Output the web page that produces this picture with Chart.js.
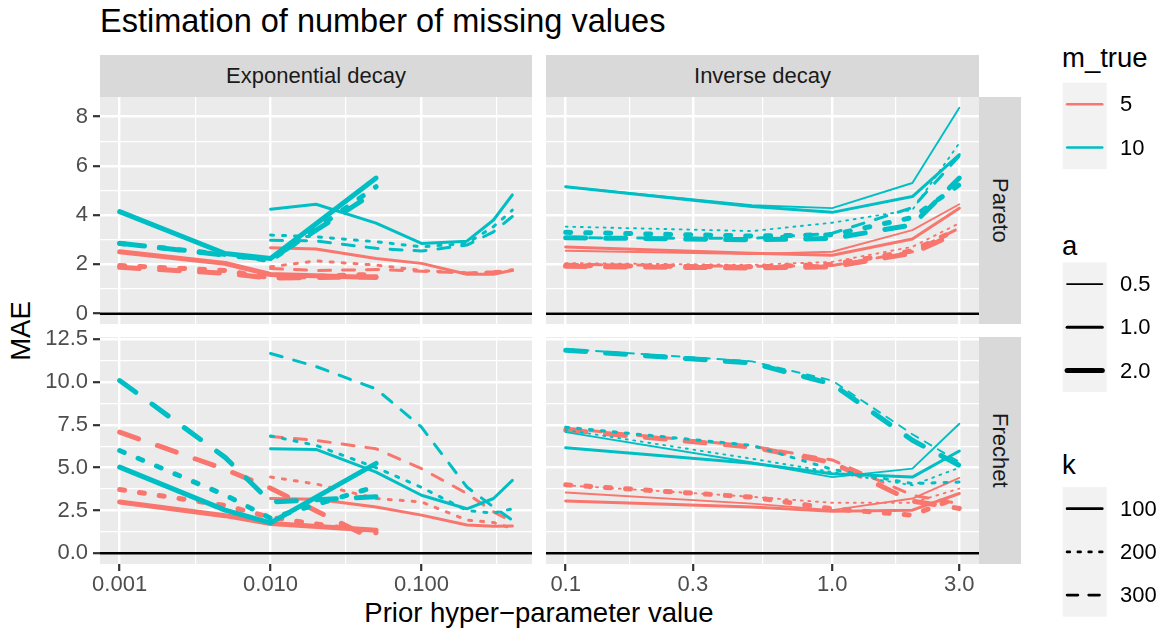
<!DOCTYPE html>
<html>
<head>
<meta charset="utf-8">
<script src="https://cdn.jsdelivr.net/npm/chart.js@4.4.0/dist/chart.umd.min.js"></script>
<style>
  body { margin: 0; background: #fff; }
  #plot { position: relative; width: 1165px; height: 635px; overflow: hidden;
          font-family: "Liberation Sans", Arial, Helvetica, sans-serif; color: #000; }
  #plot canvas { position: absolute; }
  .txt { position: absolute; white-space: nowrap; line-height: 1; }
  .strip { position: absolute; background: #D9D9D9; color: #1A1A1A; font-size: 22px;
           display: flex; align-items: center; justify-content: center; }
  .strip.right span { writing-mode: vertical-rl; }
  .legtitle { font-size: 27.5px; }
  .legtext { font-size: 22px; }
</style>
</head>
<body>
<div id="plot">
  <div class="txt" style="left:100px; top:5px; font-size:32.5px;">Estimation of number of missing values</div>

  <div class="strip" style="left:100px; top:55px; width:432px; height:42px;">Exponential decay</div>
  <div class="strip" style="left:546px; top:55px; width:433px; height:42px;">Inverse decay</div>
  <div class="strip right" style="left:979px; top:97px; width:42px; height:227px;"><span>Pareto</span></div>
  <div class="strip right" style="left:979px; top:337px; width:42px; height:227px;"><span>Frechet</span></div>

  <div class="txt" style="left:21px; top:331px; font-size:27.5px; transform: translate(-50%, -50%) rotate(-90deg);">MAE</div>
  <div class="txt" style="left:539px; top:599px; font-size:27.5px; transform: translateX(-50%);">Prior hyper−parameter value</div>

  <!-- legends -->
  <div class="txt legtitle" style="left:1062px; top:44px;">m_true</div>
  <div class="txt legtitle" style="left:1062px; top:232px;">a</div>
  <div class="txt legtitle" style="left:1062px; top:451px;">k</div>
  <svg id="legend" style="position:absolute; left:0; top:0;" width="1165" height="635"></svg>
</div>

<script>
// prior hyper-parameter values on the x axis
const priorExpA2 = [0.001, 0.005, 0.01, 0.05];
const priorExpA1 = [0.01, 0.02, 0.05, 0.1, 0.2, 0.3, 0.4];
const priorInv = [0.1, 0.5, 1, 2, 3];

// rows: [m_true, a, k, MAE per prior value]
const expPareto = [
  [5, 1, 100, [2.67, 2.62, 2.24, 2.04, 1.6, 1.6, 1.76]],
  [5, 1, 200, [1.9, 2.14, 1.97, 1.75, 1.65, 1.68, 1.75]],
  [5, 1, 300, [1.83, 1.75, 1.79, 1.72, 1.65, 1.7, 1.78]],
  [5, 2, 100, [2.51, 2.04, 1.59, 1.47]],
  [5, 2, 200, [1.95, 1.75, 1.45, 1.6]],
  [5, 2, 300, [1.88, 1.64, 1.44, 1.5]],
  [10, 1, 100, [4.24, 4.44, 3.67, 2.85, 2.94, 3.8, 4.82]],
  [10, 1, 200, [3.19, 3.12, 2.92, 2.71, 2.85, 3.53, 4.2]],
  [10, 1, 300, [2.98, 2.95, 2.65, 2.54, 2.78, 3.32, 3.94]],
  [10, 2, 100, [4.14, 2.44, 2.24, 5.5]],
  [10, 2, 200, [2.85, 2.4, 2.15, 5.15]],
  [10, 2, 300, [2.86, 2.37, 2.2, 4.95]]
];

const expFrechet = [
  [5, 1, 100, [3.2, 3.15, 2.71, 2.23, 1.65, 1.58, 1.6]],
  [5, 1, 200, [4.45, 4.05, 3.2, 3.0, 1.94, 1.8, 1.45]],
  [5, 1, 300, [6.82, 6.59, 6.1, 4.94, 3.49, 2.42, 1.84]],
  [5, 2, 100, [3.0, 2.2, 1.74, 1.35]],
  [5, 2, 200, [3.72, 2.8, 2.1, 1.2]],
  [5, 2, 300, [7.07, 4.9, 3.8, 0.75]],
  [10, 1, 100, [6.1, 6.06, 4.74, 3.39, 2.6, 3.2, 4.26]],
  [10, 1, 200, [6.85, 6.3, 5.0, 3.85, 2.5, 2.35, 2.6]],
  [10, 1, 300, [11.66, 10.9, 9.59, 7.36, 3.87, 2.7, 1.94]],
  [10, 2, 100, [5.03, 2.52, 1.78, 5.25]],
  [10, 2, 200, [6.0, 3.4, 2.05, 3.9]],
  [10, 2, 300, [10.08, 5.6, 3.0, 3.3]]
];

const invPareto = [
  [5, 0.5, 100, [2.55, 2.42, 2.51, 3.39, 4.44]],
  [5, 1, 100, [2.7, 2.45, 2.37, 3.03, 4.28]],
  [5, 0.5, 200, [2.05, 1.98, 2.1, 2.71, 3.67]],
  [5, 2, 200, [1.95, 1.9, 2.0, 2.55, 3.45]],
  [5, 1, 300, [2.0, 1.92, 1.95, 2.51, 3.47]],
  [5, 2, 300, [1.92, 1.85, 1.9, 2.45, 3.31]],
  [10, 0.5, 100, [5.15, 4.4, 4.28, 5.3, 8.35]],
  [10, 1, 100, [5.15, 4.35, 4.11, 4.75, 6.45]],
  [10, 0.5, 200, [3.53, 3.35, 3.69, 4.21, 6.92]],
  [10, 2, 200, [3.3, 3.15, 3.2, 3.9, 5.23]],
  [10, 1, 300, [3.08, 3.05, 3.26, 4.3, 6.4]],
  [10, 2, 300, [3.08, 3.0, 3.05, 3.6, 5.5]]
];

const invFrechet = [
  [5, 0.5, 100, [3.55, 2.9, 2.52, 3.2, 4.4]],
  [5, 1, 100, [3.06, 2.7, 2.45, 2.52, 3.49]],
  [5, 0.5, 200, [3.97, 3.3, 2.95, 2.95, 3.78]],
  [5, 2, 200, [4.0, 3.28, 2.6, 2.23, 3.29]],
  [5, 1, 300, [7.3, 6.25, 5.45, 3.39, 2.9]],
  [5, 2, 300, [7.2, 6.2, 5.3, 3.05, 2.62]],
  [10, 0.5, 100, [7.07, 5.3, 4.45, 4.94, 7.56]],
  [10, 1, 100, [6.16, 5.25, 4.65, 4.45, 5.97]],
  [10, 0.5, 200, [7.2, 5.52, 4.74, 3.97, 5.0]],
  [10, 1, 200, [7.36, 6.3, 4.9, 4.07, 4.16]],
  [10, 0.5, 300, [11.92, 11.2, 10.08, 6.95, 5.33]],
  [10, 2, 300, [11.85, 11.1, 9.88, 6.6, 5.13]]
];

// axis breaks
const expTicks = [0.001, 0.01, 0.1];
const expMinor = [Math.pow(10, -2.5), Math.pow(10, -1.5), Math.pow(10, -0.5)];
const invTicks = [0.1, 0.3, 1, 3];
const invMinor = [Math.sqrt(0.03), Math.sqrt(0.3), Math.sqrt(3)];
const paretoTicks = [0, 2, 4, 6, 8];
const paretoMinor = [1, 3, 5, 7];
const frechetTicks = [0, 2.5, 5, 7.5, 10, 12.5];
const frechetMinor = [1.25, 3.75, 6.25, 8.75, 11.25];

const mTrueLevels = [5, 10];
const aLevels = [0.5, 1, 2];
const kLevels = [100, 200, 300];

const colours = { 5: '#F8766D', 10: '#00BFC4' };
const widths = { 0.5: 1.9, 1: 3.0, 2: 5.0 };
// R style dash patterns ("13" dotted, "44" dashed), in units of line width
function dashFor(k, w) {
  if (k === 200) return [1 * w, 3 * w];
  if (k === 300) return [4 * w, 4 * w];
  return [];
}

const fontFamily = '"Liberation Sans", Arial, Helvetica, sans-serif';

function tickList(major, minor) {
  return major.map(v => ({ value: v }))
    .concat(minor.map(v => ({ value: v, minor: true })))
    .sort((p, q) => p.value - q.value);
}

function buildDatasets(rows, xFor) {
  return rows.map(([m, a, k, vals]) => {
    const xs = xFor(a);
    const w = widths[a];
    return {
      data: vals.map((v, i) => ({ x: xs[i], y: v })),
      borderColor: colours[m],
      borderWidth: w,
      borderDash: dashFor(k, w),
      borderJoinStyle: 'round',
      borderCapStyle: 'round',
      pointRadius: 0,
      tension: 0,
      fill: false
    };
  }).reverse();
}

const panelBg = {
  id: 'panelBg',
  beforeDraw(chart) {
    const { ctx, chartArea: a } = chart;
    ctx.save();
    ctx.fillStyle = '#EBEBEB';
    ctx.fillRect(a.left, a.top, a.right - a.left, a.bottom - a.top);
    ctx.restore();
  }
};

// horizontal reference line at MAE = 0
const zeroLine = {
  id: 'zeroLine',
  afterDatasetsDraw(chart) {
    const { ctx, chartArea: a } = chart;
    const y = chart.scales.y.getPixelForValue(0);
    ctx.save();
    ctx.strokeStyle = '#000';
    ctx.lineWidth = 2.5;
    ctx.beginPath();
    ctx.moveTo(a.left, y);
    ctx.lineTo(a.right, y);
    ctx.stroke();
    ctx.restore();
  }
};

function gridOpts(showTicks) {
  return {
    color: '#FFFFFF',
    lineWidth: c => (c.tick && c.tick.minor ? 1.2 : 2.4),
    drawTicks: showTicks,
    tickLength: 7,
    tickWidth: 2.2,
    tickColor: c => (c.tick && c.tick.minor ? 'rgba(0,0,0,0)' : '#333333')
  };
}

function addPanel(rect, cfg) {
  const pad = 20;
  const yW = cfg.yLabels ? 60 : 0;
  const xH = cfg.xLabels ? 40 : 0;
  const w = rect.w + yW + 2 * pad;
  const h = rect.h + xH + 2 * pad;
  const cv = document.createElement('canvas');
  cv.width = w; cv.height = h;
  cv.style.left = (rect.x - yW - pad) + 'px';
  cv.style.top = (rect.y - pad) + 'px';
  cv.style.width = w + 'px';
  cv.style.height = h + 'px';
  document.getElementById('plot').insertBefore(cv, document.getElementById('legend'));

  const xt = tickList(cfg.xMajor, cfg.xMinor);
  const yt = tickList(cfg.yMajor, cfg.yMinor);

  new Chart(cv.getContext('2d'), {
    type: 'line',
    data: { datasets: buildDatasets(cfg.rows, cfg.xFor) },
    options: {
      responsive: false,
      animation: false,
      devicePixelRatio: 1,
      events: [],
      layout: { padding: pad },
      plugins: { legend: { display: false }, tooltip: { enabled: false } },
      scales: {
        x: {
          type: 'logarithmic',
          bounds: 'data',
          min: cfg.xMin, max: cfg.xMax,
          afterBuildTicks: ax => { ax.ticks = xt.map(t => ({ ...t })); },
          afterFit: ax => { ax.height = xH; },
          border: { display: false },
          grid: gridOpts(cfg.xLabels),
          ticks: {
            display: cfg.xLabels,
            autoSkip: false, maxRotation: 0, minRotation: 0,
            padding: 1,
            color: '#4D4D4D',
            font: { family: fontFamily, size: 22 },
            callback: (v, i, ticks) => (ticks[i].minor ? '' : cfg.xFmt(v))
          }
        },
        y: {
          type: 'linear',
          bounds: 'data',
          min: cfg.yMin, max: cfg.yMax,
          afterBuildTicks: ax => { ax.ticks = yt.map(t => ({ ...t })); },
          afterFit: ax => { ax.width = yW; },
          border: { display: false },
          grid: gridOpts(cfg.yLabels),
          ticks: {
            display: cfg.yLabels,
            autoSkip: false,
            padding: 5,
            color: '#4D4D4D',
            font: { family: fontFamily, size: 22 },
            callback: (v, i, ticks) => (ticks[i].minor ? '' : cfg.yFmt(v))
          }
        }
      }
    },
    plugins: [panelBg, zeroLine]
  });
}

const expX = a => (a === 2 ? priorExpA2 : priorExpA1);
const invX = () => priorInv;
const expRange = { xMin: Math.pow(10, -3.130103), xMax: Math.pow(10, -0.267837) };
const invRange = { xMin: Math.pow(10, -1.0738561), xMax: Math.pow(10, 0.5509774) };
const paretoY = { yMin: -0.42, yMax: 8.79, yMajor: paretoTicks, yMinor: paretoMinor, yFmt: v => String(v) };
const frechetY = { yMin: -0.62, yMax: 12.62, yMajor: frechetTicks, yMinor: frechetMinor, yFmt: v => v.toFixed(1) };
const expXAxis = { ...expRange, xMajor: expTicks, xMinor: expMinor, xFmt: v => v.toFixed(3), xFor: expX };
const invXAxis = { ...invRange, xMajor: invTicks, xMinor: invMinor, xFmt: v => v.toFixed(1), xFor: invX };

addPanel({ x: 100, y: 97, w: 432, h: 227 }, { ...expXAxis, ...paretoY, rows: expPareto, yLabels: true, xLabels: false });
addPanel({ x: 546, y: 97, w: 433, h: 227 }, { ...invXAxis, ...paretoY, rows: invPareto, yLabels: false, xLabels: false });
addPanel({ x: 100, y: 337, w: 432, h: 227 }, { ...expXAxis, ...frechetY, rows: expFrechet, yLabels: true, xLabels: true });
addPanel({ x: 546, y: 337, w: 433, h: 227 }, { ...invXAxis, ...frechetY, rows: invFrechet, yLabels: false, xLabels: true });

// legend keys
const svgNS = 'http://www.w3.org/2000/svg';
const legend = document.getElementById('legend');
const plotDiv = document.getElementById('plot');
const keyLeft = 1062.7, keyW = 44, keyH = 43.2;

function keyBlock(top, n) {
  const r = document.createElementNS(svgNS, 'rect');
  r.setAttribute('x', keyLeft); r.setAttribute('y', top);
  r.setAttribute('width', keyW); r.setAttribute('height', n * keyH);
  r.setAttribute('fill', '#F2F2F2');
  legend.appendChild(r);
}
function keyLine(cy, colour, w, dash) {
  const l = document.createElementNS(svgNS, 'line');
  l.setAttribute('x1', keyLeft + 4.4); l.setAttribute('x2', keyLeft + keyW - 4.4);
  l.setAttribute('y1', cy); l.setAttribute('y2', cy);
  l.setAttribute('stroke', colour); l.setAttribute('stroke-width', w);
  l.setAttribute('stroke-linecap', 'round');
  if (dash.length) l.setAttribute('stroke-dasharray', dash.join(' '));
  legend.appendChild(l);
}
function keyLabel(cy, text) {
  const d = document.createElement('div');
  d.className = 'txt legtext';
  d.style.left = '1120px';
  d.style.top = (cy - 11) + 'px';
  d.style.lineHeight = '22px';
  d.textContent = text;
  plotDiv.appendChild(d);
}

keyBlock(82.7, mTrueLevels.length);
mTrueLevels.forEach((m, i) => {
  const cy = 82.7 + keyH * (i + 0.5);
  keyLine(cy, colours[m], 2.4, []);
  keyLabel(cy, String(m));
});

keyBlock(262.5, aLevels.length);
aLevels.forEach((a, i) => {
  const cy = 262.5 + keyH * (i + 0.5);
  keyLine(cy, '#000', widths[a], []);
  keyLabel(cy, a.toFixed(1));
});

keyBlock(487.1, kLevels.length);
kLevels.forEach((k, i) => {
  const cy = 487.1 + keyH * (i + 0.5);
  keyLine(cy, '#000', 2.7, dashFor(k, 2.7));
  keyLabel(cy, String(k));
});
</script>
</body>
</html>
